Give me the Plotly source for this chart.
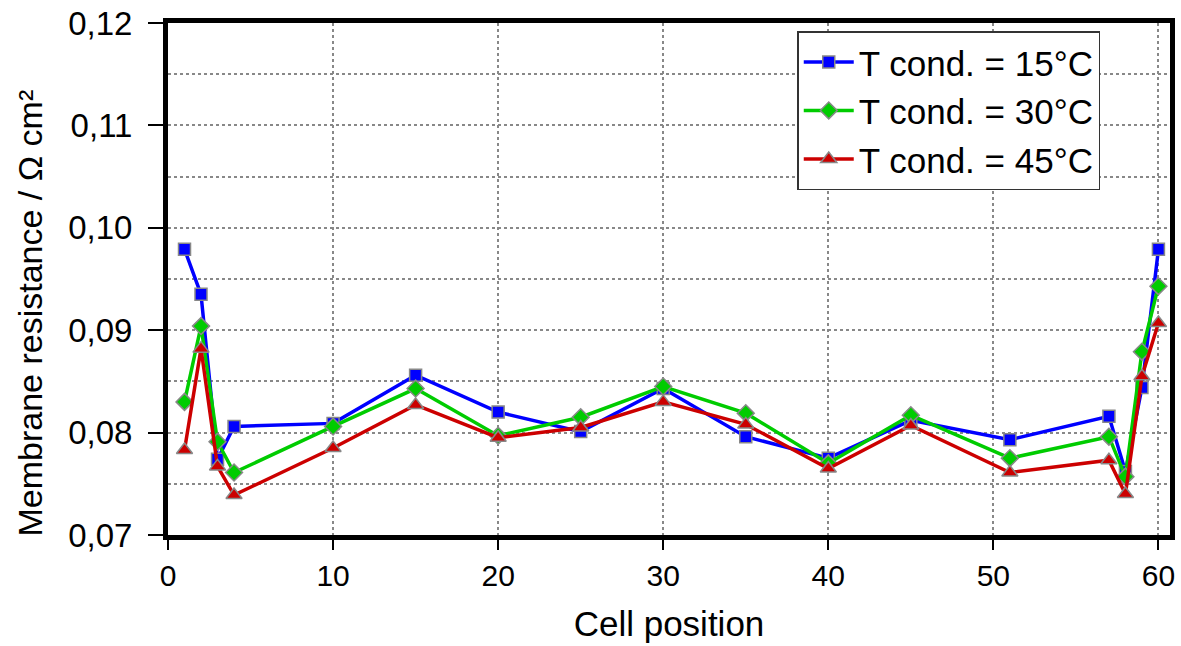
import plotly.graph_objects as go

cells = [1, 2, 3, 4, 10, 15, 20, 25, 30, 35, 40, 45, 51, 57, 58, 59, 60]
r_15 = [0.0979, 0.0935, 0.0774, 0.0806, 0.0809, 0.0856, 0.0820, 0.0801, 0.0843, 0.0796, 0.0775, 0.0812, 0.0793, 0.0816, 0.0762, 0.0844, 0.0979]
r_30 = [0.0830, 0.0904, 0.0791, 0.0761, 0.0806, 0.0843, 0.0797, 0.0815, 0.0845, 0.0819, 0.0770, 0.0817, 0.0775, 0.0796, 0.0757, 0.0879, 0.0943]
r_45 = [0.0783, 0.0882, 0.0767, 0.0739, 0.0785, 0.0827, 0.0795, 0.0805, 0.0830, 0.0808, 0.0765, 0.0807, 0.0761, 0.0773, 0.0740, 0.0855, 0.0907]

series = [
    ("T cond. = 15°C", r_15, "#0000FF", "square", 12),
    ("T cond. = 30°C", r_30, "#00CC00", "diamond", 13),
    ("T cond. = 45°C", r_45, "#CC0000", "triangle-up", 14),
]

fig = go.Figure()
for name, vals, col, sym, sz in series:
    fig.add_trace(go.Scatter(
        x=cells, y=vals, name=name, mode="lines+markers",
        line=dict(color=col, width=3.5),
        marker=dict(symbol=sym, size=sz, color=col, line=dict(color="#888888", width=1.5)),
    ))

font_main = "Liberation Sans, Arial, sans-serif"
fig.update_layout(
    width=1181, height=646,
    margin=dict(l=168, r=11, t=23, b=111, autoexpand=False),
    plot_bgcolor="white", paper_bgcolor="white",
    separators=",.",
    font=dict(family=font_main, color="black", size=24),
    showlegend=True,
    legend=dict(
        x=0.628, y=0.984, xanchor="left", yanchor="top",
        bgcolor="white", bordercolor="#333333", borderwidth=1.5,
        font=dict(size=35, family=font_main),
        itemwidth=50, tracegroupgap=0,
    ),
    xaxis=dict(
        range=[0, 60.7], tickmode="array", tickvals=[0, 10, 20, 30, 40, 50, 60],
        showgrid=True, gridcolor="#888888", griddash="dot", gridwidth=1.5,
        showline=True, linecolor="black", linewidth=5, mirror=True,
        ticks="outside", ticklen=10, tickwidth=1.5, tickcolor="black",
        zeroline=False, automargin=False,
        tickfont=dict(size=30, family="Liberation Sans Narrow, Liberation Sans, Arial"),
        title=dict(text="Cell position", font=dict(size=35), standoff=22),
    ),
    yaxis=dict(
        range=[0.07, 0.12], dtick=0.01, tickformat=".2f",
        showgrid=True, gridcolor="#888888", griddash="dot", gridwidth=1.5,
        minor=dict(dtick=0.005, showgrid=True, gridcolor="#888888", griddash="dot", gridwidth=1.5),
        showline=True, linecolor="black", linewidth=5, mirror=True,
        ticks="outside", ticklen=15, tickwidth=2, tickcolor="black",
        ticklabelstandoff=9, ticklabeloverflow="allow",
        zeroline=False, automargin=False,
        tickfont=dict(size=33),
    ),
    annotations=[dict(
        text="Membrane resistance / Ω cm²", textangle=-90,
        xref="paper", yref="paper", x=-0.138, y=0.434,
        xanchor="center", yanchor="middle", showarrow=False,
        font=dict(size=34, family=font_main, color="black"),
    )],
)

fig.write_html("out.html", config={"displayModeBar": False},
               post_script="document.body.style.margin='0';")
